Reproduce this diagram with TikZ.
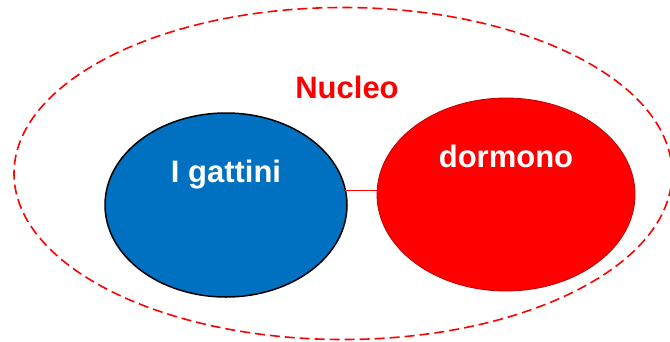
\documentclass[tikz,border=0pt]{standalone}
\usepackage{fontspec}
\setmainfont{Liberation Sans}
\usetikzlibrary{shapes.geometric}
\definecolor{boxblue}{HTML}{0070C0}
\definecolor{boxred}{HTML}{FF0000}
\definecolor{rimred}{HTML}{C00000}
\tikzset{
  blob/.style={ellipse, inner sep=0pt, outer sep=0pt},
  label/.style={anchor=base, inner sep=0pt, font=\fontsize{31}{31}\selectfont\bfseries},
  link/.style={draw=boxred, line width=1.2pt},
}
\begin{document}
\begin{tikzpicture}[x=1pt, y=-1pt]
  \useasboundingbox (0,0) rectangle (670,341);
  % dashed outline of the nucleus (runs past the right edge)
  \node[blob, draw=boxred, line width=1.6pt, dash pattern=on 10pt off 5pt,
        minimum width=658pt, minimum height=332pt] (nucleo) at (343,173.5) {};
  \node[label, text=boxred] (nucleotxt) at (347,98) {Nucleo};
  % the two parts
  \node[blob, fill=boxblue, draw=black, line width=1.5pt,
        minimum width=242pt, minimum height=184pt] (gattini) at (226,205) {};
  \node[blob, fill=boxred, draw=rimred, line width=0.8pt,
        minimum width=258pt, minimum height=193pt] (dormono) at (506,194.5) {};
  \draw[link] (gattini.7.7) -- (gattini.7.7 -| dormono.west);
  \node[label, text=white] (gattinitxt) at (226,182) {I gattini};
  \node[label, text=white] (dormonotxt) at (506,167) {dormono};
\end{tikzpicture}
\end{document}
